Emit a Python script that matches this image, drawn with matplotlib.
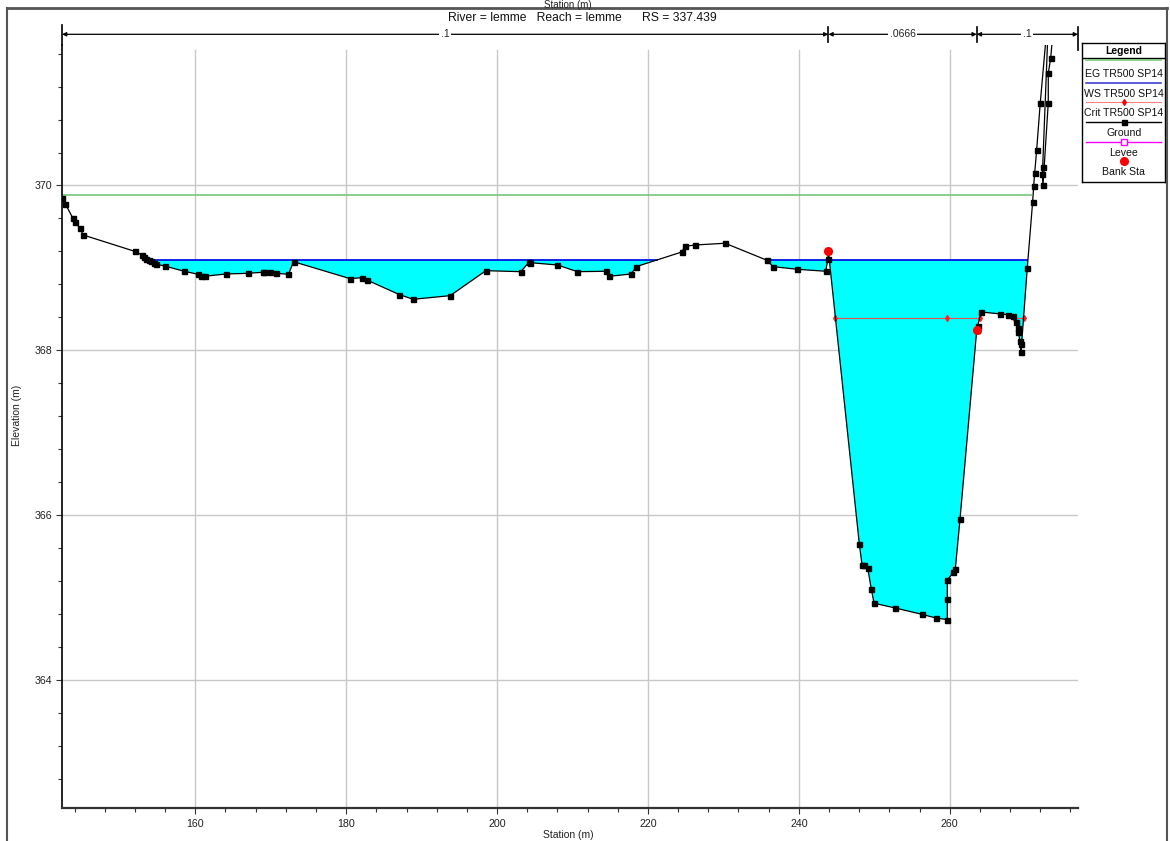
import numpy as np
import matplotlib
matplotlib.use('Agg')
import matplotlib.pyplot as plt
from matplotlib.ticker import MultipleLocator

plt.rcParams['font.family'] = ['Liberation Sans', 'DejaVu Sans']

# ---------------- data ----------------
station = [142.34, 142.77, 143.74, 144.01, 144.76, 145.12, 152.01, 152.88, 153.24, 153.51,
           153.81, 154.13, 154.47, 154.83, 155.93, 158.50, 160.36, 160.80, 161.23, 164.07,
           166.98, 168.97, 169.14, 169.85, 170.73, 172.36, 173.03, 180.54, 182.13, 182.75,
           187.07, 188.89, 193.79, 198.52, 203.16, 204.26, 204.43, 208.01, 210.66, 214.46,
           214.90, 217.78, 218.44, 224.49, 224.89, 226.29, 230.23, 235.79, 236.59, 239.81,
           243.57, 243.84, 243.92, 248.02, 248.38, 248.64, 249.13, 249.61, 249.97, 252.75,
           256.29, 258.18, 259.68, 259.68, 259.68, 260.48, 260.74, 261.36, 263.58, 263.71,
           264.15, 266.70, 267.69, 268.43, 268.79, 269.01, 269.09, 269.30, 269.38, 269.45,
           270.28, 270.99, 271.13, 271.26, 271.52, 272.00, 273.16, 272.32, 272.27, 272.36,
           273.06, 273.06, 273.38, 274.00]
elevation = [369.85, 369.78, 369.61, 369.56, 369.48, 369.40, 369.20, 369.16, 369.13, 369.11,
             369.096, 369.08, 369.063, 369.044, 369.023, 368.96, 368.922, 368.905, 368.898, 368.926,
             368.934, 368.947, 368.954, 368.947, 368.934, 368.922, 369.075, 368.869, 368.881, 368.853,
             368.675, 368.619, 368.663, 368.966, 368.954, 369.072, 369.063, 369.035, 368.954, 368.959,
             368.898, 368.926, 369.015, 369.193, 369.262, 369.278, 369.299, 369.092, 369.015, 368.983,
             368.959, 369.104, 369.20, 365.646, 365.394, 365.391, 365.358, 365.099, 364.930, 364.873,
             364.796, 364.751, 364.731, 364.985, 365.212, 365.306, 365.346, 365.949, 368.246, 368.295,
             368.465, 368.441, 368.432, 368.416, 368.347, 368.274, 368.218, 368.113, 368.073, 367.983,
             369.002, 369.803, 369.998, 370.155, 370.431, 371.005, 372.20, 370.228, 370.140, 370.002,
             371.005, 371.362, 371.544, 372.20]

ws_elev = 369.10
eg_elev = 369.89
crit_elev = 368.39
eg_end_station = 270.87
bank_stations = [243.92, 263.58]
mann_n = ['.1', '.0666', '.1']
x_ticks = [160, 180, 200, 220, 240, 260]
y_ticks = [364, 366, 368, 370]
title = 'River = lemme   Reach = lemme      RS = 337.439'
legend_labels = ['EG TR500 SP14', 'WS TR500 SP14', 'Crit TR500 SP14', 'Ground', 'Levee', 'Bank Sta']

# ---------------- layout helpers ----------------
W, H = 1170, 841
fig = plt.figure(figsize=(W / 100, H / 100), dpi=100)


def fx(px):
    return px / W


def fy(py):
    return 1 - py / H


ax_l, ax_r, ax_t, ax_b = 62, 1078, 45, 808
ax = fig.add_axes([fx(ax_l), fy(ax_b), fx(ax_r) - fx(ax_l), fy(ax_t) - fy(ax_b)])
xlo, xhi = station[0], 277.0
ylo, yhi = 362.445, 371.705
ax.set_xlim(xlo, xhi)
ax.set_ylim(ylo, yhi)

st = np.array(station)
el = np.array(elevation)


def px_to_el(py):
    return ylo + (ax_b - py) / (ax_b - ax_t) * (yhi - ylo)


def intervals_below(level):
    out = []
    below = el < level
    start = None
    for i in range(len(st)):
        if below[i] and start is None:
            if i == 0:
                start = st[0]
            else:
                t = (el[i - 1] - level) / (el[i - 1] - el[i])
                start = st[i - 1] + t * (st[i] - st[i - 1])
        elif (not below[i]) and start is not None:
            t = (level - el[i - 1]) / (el[i] - el[i - 1])
            out.append((start, st[i - 1] + t * (st[i] - st[i - 1])))
            start = None
    return out


# gridlines
grid_top = (px_to_el(50) - ylo) / (yhi - ylo)
for xv in x_ticks:
    ax.axvline(xv, ymin=0, ymax=grid_top, color='#c8c8c8', lw=1, zorder=0)
for yv in y_ticks:
    ax.axhline(yv, color='#c8c8c8', lw=1, zorder=0)

# water fill
ax.fill_between(st, el, ws_elev, where=el <= ws_elev, interpolate=True,
                color='#00ffff', lw=0, zorder=1)

# EG line
ax.hlines(eg_elev, st[0], eg_end_station, color='#6cc46c', lw=1.1, zorder=2)

# WS line
for a, b in intervals_below(ws_elev):
    ax.hlines(ws_elev, a, b, color='#0000e0', lw=1.2, zorder=2)

# Crit line
crit_iv = intervals_below(crit_elev)
crit_marks = []
for a, b in crit_iv:
    ax.hlines(crit_elev, a, b, color='#e85050', lw=0.8, zorder=2)
    crit_marks += [a, b]
crit_marks.append(st[np.argmin(el)])
ax.plot(crit_marks, [crit_elev] * len(crit_marks), ls='none', marker='d', ms=3,
        color='#ff2020', zorder=3)

# ground
ax.plot(st, el, color='black', lw=0.9, marker='s', ms=3.6, mfc='black', mec='black', zorder=4)

# bank stations
bank_el = [elevation[station.index(b)] for b in bank_stations]
ax.plot(bank_stations, bank_el, ls='none', marker='o', ms=5.5, color='#ff0000', zorder=5)

# Manning's n arrows
y_arrow = px_to_el(34.3)
bounds = [xlo] + bank_stations + [xhi]
for i, nval in enumerate(mann_n):
    a, b = bounds[i], bounds[i + 1]
    ax.annotate('', xy=(b, y_arrow), xytext=(a, y_arrow), annotation_clip=False,
                arrowprops=dict(arrowstyle='<|-|>', lw=0.9, color='black',
                                mutation_scale=6, shrinkA=0, shrinkB=0))
    ax.text((a + b) / 2, y_arrow, nval, ha='center', va='center', fontsize=7.5,
            color='#222222', clip_on=False, zorder=6,
            bbox=dict(boxstyle='square,pad=0.15', fc='white', ec='none'))
for b in bank_stations:
    ax.plot([b, b], [px_to_el(42), px_to_el(27)], color='black', lw=1.2, clip_on=False)
ax.plot([xhi, xhi], [px_to_el(50), px_to_el(27)], color='black', lw=1.2, clip_on=False)
ax.plot([xlo, xlo], [yhi, px_to_el(25)], color='black', lw=1.2, clip_on=False)

# axes styling
for s in ['top', 'right']:
    ax.spines[s].set_visible(False)
ax.spines['left'].set_color('black')
ax.spines['left'].set_linewidth(1.2)
ax.spines['bottom'].set_color('#333333')
ax.spines['bottom'].set_linewidth(1.6)
ax.set_xticks(x_ticks)
ax.set_yticks(y_ticks)
ax.xaxis.set_minor_locator(MultipleLocator(4))
ax.yaxis.set_minor_locator(MultipleLocator(0.4))
ax.tick_params(which='both', direction='out', color='#333333', width=0.8,
               labelsize=7.7, labelcolor='#222222')
ax.tick_params(which='major', length=4)
ax.tick_params(axis='x', which='major', pad=4)
ax.tick_params(axis='y', which='major', pad=3)
ax.tick_params(which='minor', length=3)

fig.text(fx(568), fy(835), 'Station (m)', ha='center', va='center', fontsize=7.5, color='#222222')
fig.text(fx(17), fy(415), 'Elevation (m)', ha='center', va='center', rotation=90,
         fontsize=7.5, color='#222222')
fig.text(fx(582), fy(18), title, ha='center', va='center', fontsize=8.7, color='#111111')
fig.text(fx(568), fy(0.3), 'Station (m)', ha='center', va='top', fontsize=7.0, color='#222222')

# outer frame
fig.add_artist(plt.Line2D([fx(7), fx(7)], [fy(8), 0], color='#555555', lw=1.5))
fig.add_artist(plt.Line2D([fx(7), fx(1167)], [fy(8), fy(8)], color='#555555', lw=2))
fig.add_artist(plt.Line2D([fx(1167), fx(1167)], [fy(8), 0], color='#555555', lw=1.5))

# ---------------- legend ----------------
lg_l, lg_r, lg_t, lg_b = 1082.3, 1165.2, 43.3, 181.7
lax = fig.add_axes([fx(lg_l), fy(lg_b), fx(lg_r) - fx(lg_l), fy(lg_t) - fy(lg_b)])
lw_, lh_ = lg_r - lg_l, lg_b - lg_t
lax.set_xlim(0, lw_)
lax.set_ylim(lh_, 0)
lax.set_xticks([])
lax.set_yticks([])
for s in lax.spines.values():
    s.set_linewidth(1.0)
    s.set_color('black')
lax.axhline(14.4, color='black', lw=1.0)
lax.text(lw_ / 2, 7.4, 'Legend', ha='center', va='center', fontsize=7.5, weight='bold')
styles = [dict(color='#6cc46c', lw=1.1),
          dict(color='#3030d0', lw=1.1),
          dict(color='#ff8080', lw=0.8, marker='d', ms=3, mfc='#ff0000', mec='#ff0000', markevery=[1]),
          dict(color='black', lw=1.0, marker='s', ms=3.6, markevery=[1]),
          dict(color='#ff00ff', lw=1.0, marker='s', ms=5, mfc='white', mec='#ff00ff', markevery=[1]),
          dict(color='#ff0000', ls='none', marker='o', ms=5.5, markevery=[1])]
for i, lab in enumerate(legend_labels):
    ty = 31 + 19.6 * i
    ly = ty - 11 if i > 0 else 16.8
    lax.plot([4, lw_ / 2, lw_ - 4], [ly, ly, ly], **styles[i])
    lax.text(lw_ / 2, ty, lab, ha='center', va='center', fontsize=7.6, color='#111111')

fig.savefig('out.png', dpi=100)
